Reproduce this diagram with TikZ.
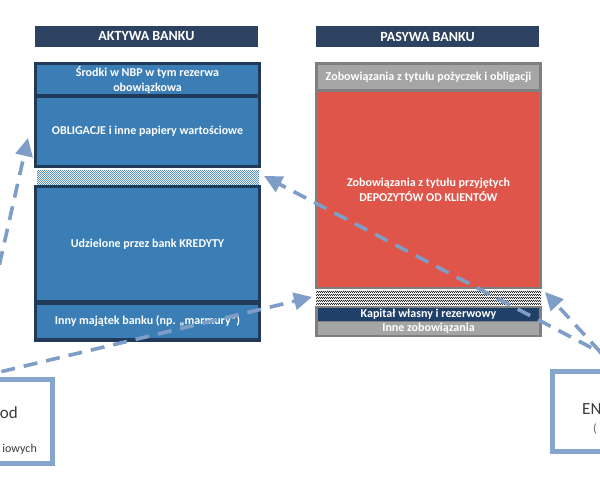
\documentclass[tikz,border=0pt]{standalone}
\usepackage{fontspec}
\setmainfont{Carlito}
\usetikzlibrary{arrows.meta,patterns}
\pgfdeclarepatternformonly{finecheck}{\pgfpointorigin}{\pgfqpoint{2.4pt}{2.4pt}}{\pgfqpoint{2.4pt}{2.4pt}}{%
  \pgfpathrectangle{\pgfpointorigin}{\pgfqpoint{1.2pt}{1.2pt}}%
  \pgfpathrectangle{\pgfqpoint{1.2pt}{1.2pt}}{\pgfqpoint{1.2pt}{1.2pt}}%
  \pgfusepath{fill}}
\definecolor{navy}{HTML}{2D4260}
\definecolor{frameblue}{HTML}{213A5A}
\definecolor{blockblue}{HTML}{3B7EB5}
\definecolor{redblk}{HTML}{E0554A}
\definecolor{grayblk}{HTML}{A5A5A5}
\definecolor{grayframe}{HTML}{7F7F7F}
\definecolor{kapital}{HTML}{1F4068}
\definecolor{arrowc}{HTML}{7E9EC8}
\definecolor{boxc}{HTML}{86A5CC}
\definecolor{darktext}{HTML}{3A3A3A}
\definecolor{checkblue}{HTML}{5B93C2}
\tikzset{
  blk/.style={rectangle, inner sep=0pt, outer sep=0pt, anchor=north west, align=center,
    text=white, font=\bfseries\fontsize{12}{15}\selectfont},
  titlebox/.style={blk, fill=navy, font=\bfseries\fontsize{14}{16}\selectfont},
  flow/.style={draw=arrowc, line width=3.6pt, dash pattern=on 14pt off 9pt,
    -{Triangle[length=18pt,width=17pt,fill=arrowc]}},
  sidebox/.style={draw=boxc, line width=4.5pt, fill=white}
}
\begin{document}
\begin{tikzpicture}[x=1pt,y=-1pt]
\useasboundingbox (0,0) rectangle (600,480);
\clip (0,0) rectangle (600,480);
\fill[white] (0,0) rectangle (600,480);

% titles
\node[titlebox, minimum width=223pt, minimum height=21pt] (ta) at (35,26) {AKTYWA BANKU};
\node[titlebox, minimum width=223pt, minimum height=21pt] (tp) at (316,26) {PASYWA BANKU};

% assets
\node[blk, fill=frameblue, minimum width=227pt, minimum height=106pt] (fl1) at (34,62) {};
\node[blk, fill=blockblue, minimum width=221pt, minimum height=29pt] (srodki) at (37,65) {Środki w NBP w tym rezerwa\\obowiązkowa};
\node[blk, fill=blockblue, minimum width=221pt, minimum height=67pt] (oblig) at (37,98) {OBLIGACJE i inne papiery wartościowe};
\node[blk, fill=white, minimum width=222pt, minimum height=14pt] (chkL) at (37,170) {};
\fill[pattern=finecheck, pattern color=checkblue] (37,170) rectangle (259,184);
\node[blk, fill=frameblue, minimum width=227pt, minimum height=157pt] (fl2) at (34,185) {};
\node[blk, fill=blockblue, minimum width=221pt, minimum height=112pt] (kred) at (37,188) {Udzielone przez bank KREDYTY};
\node[blk, fill=blockblue, minimum width=221pt, minimum height=33pt] (inny) at (37,305) {Inny majątek banku (np. „marmury”)};

% liabilities
\node[blk, fill=grayframe, minimum width=227pt, minimum height=227pt] (fr1) at (315,62) {};
\node[blk, fill=grayblk, minimum width=221pt, minimum height=24pt] (zobpoz) at (318,65) {Zobowiązania z tytułu pożyczek i obligacji};
\node[blk, fill=redblk, minimum width=221pt, minimum height=195pt] (depo) at (318,92) {Zobowiązania z tytułu przyjętych\\DEPOZYTÓW OD KLIENTÓW};
\node[blk, fill=white, minimum width=225pt, minimum height=15pt] (chkR) at (316,290) {};
\fill[pattern=finecheck, pattern color=black!85] (316,290) rectangle (541,305);
\node[blk, fill=grayframe, minimum width=227pt, minimum height=31pt] (fr2) at (315,306) {};
\node[blk, fill=kapital, minimum width=221pt, minimum height=13pt] (kap) at (318,308) {Kapitał własny i rezerwowy};
\node[blk, fill=grayblk, minimum width=221pt, minimum height=13pt] (inne) at (318,322) {Inne zobowiązania};

% side boxes
\node[sidebox, rectangle, anchor=north west, minimum width=110pt, minimum height=84pt, inner sep=0pt] (lbox) at (-60,377) {};
\node[sidebox, rectangle, anchor=north west, minimum width=110pt, minimum height=80pt, inner sep=0pt] (rbox) at (550,369) {};
\node[anchor=base east, inner sep=0pt, text=darktext, font=\fontsize{17}{19}\selectfont] (lt1) at (18,418) {od};
\node[anchor=base east, inner sep=0pt, text=darktext, font=\fontsize{12}{14}\selectfont] (lt2) at (37,452) {iowych};
\node[anchor=base west, inner sep=0pt, text=darktext, font=\fontsize{17}{19}\selectfont] (rt1) at (582,414) {EN};
\node[anchor=base west, inner sep=0pt, text=darktext!80, font=\fontsize{12}{14}\selectfont] (rt2) at (593,432) {(};

% connectors
\coordinate (s1) at (-26,377);
\coordinate (e1) at (28,138);
\coordinate (s2) at (-21,377);
\coordinate (e2) at (312,297);
\coordinate (s3) at (632,369);
\coordinate (e3) at (264,176);
\coordinate (s4) at (616,369);
\coordinate (e4) at (545,292);
\draw[flow] (s1) -- (e1);
\draw[flow] (s2) -- (e2);
\draw[flow] (s3) -- (e3);
\draw[flow] (s4) -- (e4);
\end{tikzpicture}
\end{document}
